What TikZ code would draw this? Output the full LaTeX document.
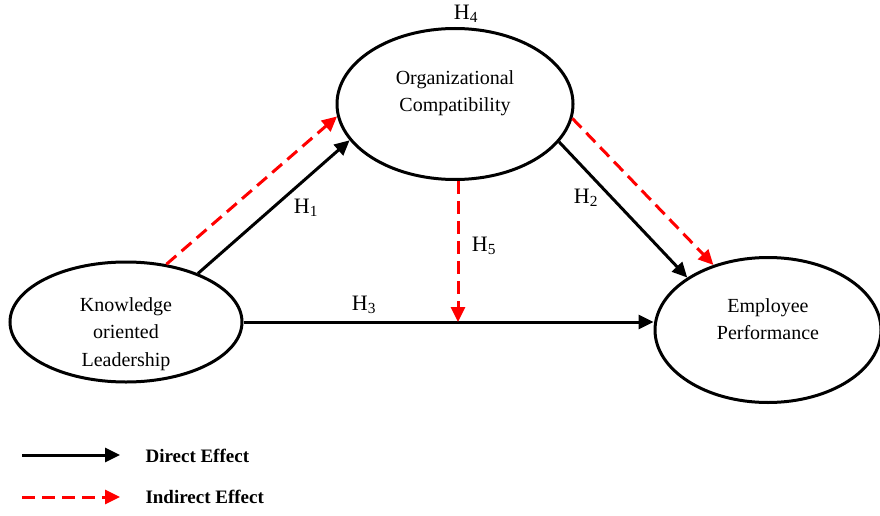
\documentclass[tikz,border=0pt]{standalone}
\usepackage{fontspec}
\setmainfont{Liberation Serif}
\usetikzlibrary{arrows.meta,shapes.geometric,positioning,calc}

\begin{document}
\begin{tikzpicture}[x=1pt,y=-1pt,>={Triangle[length=15pt,width=14pt]},
						construct/.style={
							ellipse,
							draw=black, line width=3pt,
							inner sep=0pt
						},
						label text/.style={
							align=center,
							font=\fontsize{20}{27.5}\selectfont
						},
						hyp/.style={
							font=\fontsize{22}{24}\selectfont
						},
						direct/.style={->, line width=3pt},
						indirect/.style={->, red, line width=3pt,
							dash pattern=on 13pt off 7pt}]

						\useasboundingbox (0,0) rectangle (880,516);

						% The three constructs
						\node [construct, minimum width=232pt, minimum height=120pt] (kol) at (126,322) {};
						\node [construct, minimum width=236pt, minimum height=151pt] (oc) at (455,104) {};
						\node [construct, minimum width=226pt, minimum height=145pt] (ep) at (768,330) {};

						% Texts inside the constructs
						\node [label text] (kolText) at (126,334) {Knowledge\\oriented\\Leadership};
						\node [label text] (ocText) at (455,93) {Organizational\\Compatibility};
						\node [label text] (epText) at (768,319) {Employee\\Performance};

						% Direct and indirect paths
						\draw [direct] (kol.34.6) -- (oc.199.3);
						\draw [indirect] (kol.55) -- (oc.186.6);
						\draw [direct] (oc.340.4) -- (ep.147.4);
						\draw [indirect] (oc.353.2) -- (ep.130.8);
						\draw [direct] (kol.east) -- (kol.east -| ep.west);
						\draw [indirect] ([xshift=3pt]oc.south) -- ([xshift=3pt]oc.south |- kol.east);

						%% Hypothesis labels
						\node [hyp] (h1) at (306,208) {H\textsubscript{1}};
						\node [hyp] (h2) at (586,198) {H\textsubscript{2}};
						\node [hyp] (h3) at (364,305) {H\textsubscript{3}};
						\node [hyp] (h4) at (466,14) {H\textsubscript{4}};
						\node [hyp] (h5) at (484,246) {H\textsubscript{5}};

						%% Legend
						\coordinate (directA) at (22,455);
						\coordinate (directB) at (120,455);
						\coordinate (indirectA) at (22,497);
						\coordinate (indirectB) at (120,497);
						\draw [direct] (directA) -- (directB);
						\draw [indirect] (indirectA) -- (indirectB);
						\node [label text, anchor=west, font=\fontsize{19}{22}\selectfont\bfseries] (directText) at (142,456) {Direct Effect};
						\node [label text, anchor=west, font=\fontsize{19}{22}\selectfont\bfseries] (indirectText) at (142,497) {Indirect Effect};
					\end{tikzpicture}
\end{document}
